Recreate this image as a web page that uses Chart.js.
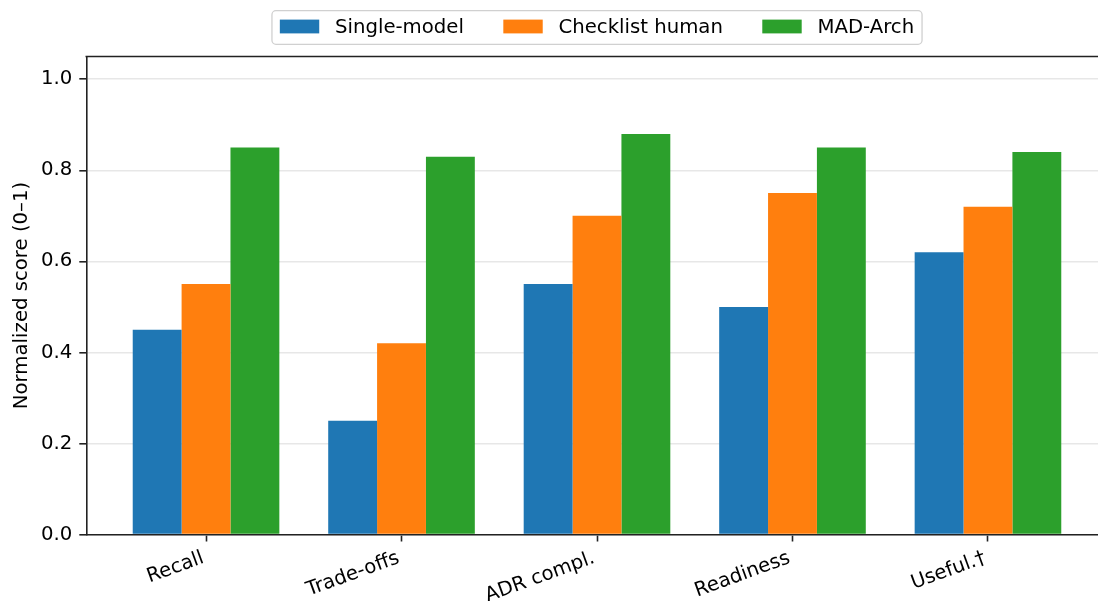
<!DOCTYPE html>
<html>
<head>
<meta charset="utf-8">
<script src="https://cdn.jsdelivr.net/npm/chart.js@4.4.1/dist/chart.umd.min.js"></script>
<style>
  html, body { margin: 0; padding: 0; background: #fff; overflow: hidden; width: 1098px; height: 601px; }
  #wrap { position: relative; width: 1110px; height: 601px; }
</style>
</head>
<body>
<div id="wrap"><canvas id="c"></canvas></div>
<script>
const categories = ['Recall', 'Trade-offs', 'ADR compl.', 'Readiness', 'Useful.†'];
const seriesNames = ['Single-model', 'Checklist human', 'MAD-Arch'];
const singleModel = [0.45, 0.25, 0.55, 0.50, 0.62];
const checklistHuman = [0.55, 0.42, 0.70, 0.75, 0.72];
const madArch = [0.85, 0.83, 0.88, 0.85, 0.84];
const yTickValues = [0.0, 0.2, 0.4, 0.6, 0.8, 1.0];
const yTitle = 'Normalized score (0–1)';

const FS = 19.7;
const FONT = 'DejaVu Sans';
const colors = ['#1f77b4', '#ff7f0e', '#2ca02c'];
Chart.defaults.font.family = FONT;
Chart.defaults.font.size = FS;
Chart.defaults.color = '#000';

const toPoints = arr => arr.map((v, i) => ({ x: i, y: v }));

const framePlugin = {
  id: 'framePlugin',
  afterDraw(chart) {
    const { ctx, chartArea: a } = chart;
    ctx.save();
    ctx.strokeStyle = '#222';
    ctx.lineWidth = 1.6;
    ctx.beginPath();
    ctx.moveTo(a.left - 0.8, a.top);
    ctx.lineTo(a.right + 0.8, a.top);
    ctx.moveTo(a.right, a.top);
    ctx.lineTo(a.right, a.bottom);
    ctx.stroke();

    // legend (matplotlib-like, framed, centered above the axes)
    ctx.font = FS + 'px "' + FONT + '"';
    const ds = chart.data.datasets;
    const handleW = 2 * FS, handleH = 0.7 * FS, textPad = 0.8 * FS, colSp = 2 * FS, bPad = 0.4 * FS;
    const widths = ds.map(d => ctx.measureText(d.label).width);
    let contentW = 0;
    widths.forEach((w, i) => { contentW += handleW + textPad + w + (i < widths.length - 1 ? colSp : 0); });
    const frameW = contentW + 2 * bPad;
    const frameH = 33.6;
    const cx = (a.left + a.right) / 2;
    const fx = cx - frameW / 2, fy = 10.7;
    ctx.beginPath();
    if (ctx.roundRect) ctx.roundRect(fx, fy, frameW, frameH, 4); else ctx.rect(fx, fy, frameW, frameH);
    ctx.fillStyle = 'rgba(255,255,255,0.8)';
    ctx.fill();
    ctx.strokeStyle = '#d0d0d0';
    ctx.lineWidth = 1.3;
    ctx.stroke();
    let x = fx + bPad;
    const midY = fy + frameH / 2;
    ds.forEach((d, i) => {
      ctx.fillStyle = d.backgroundColor;
      ctx.fillRect(x, midY - handleH / 2 - 1, handleW, handleH);
      x += handleW + textPad;
      ctx.fillStyle = '#000';
      ctx.textBaseline = 'middle';
      ctx.textAlign = 'left';
      ctx.fillText(d.label, x, midY);
      x += widths[i] + colSp;
    });
    ctx.restore();
  }
};

new Chart(document.getElementById('c'), {
  type: 'bar',
  data: {
    datasets: [
      { label: seriesNames[0], data: toPoints(singleModel), backgroundColor: colors[0] },
      { label: seriesNames[1], data: toPoints(checklistHuman), backgroundColor: colors[1] },
      { label: seriesNames[2], data: toPoints(madArch), backgroundColor: colors[2] }
    ]
  },
  options: {
    responsive: true,
    maintainAspectRatio: false,
    animation: false,
    devicePixelRatio: 1,
    layout: { padding: { top: 56.5, left: 0, right: 2.3, bottom: 0 } },
    datasets: { bar: { categoryPercentage: 0.75, barPercentage: 1.0, borderWidth: 0 } },
    plugins: { legend: { display: false }, tooltip: { enabled: false } },
    scales: {
      x: {
        type: 'linear',
        min: -0.6125,
        max: 4.6125,
        offset: false,
        afterBuildTicks: s => { s.ticks = categories.map((c, i) => ({ value: i })); },
        ticks: {
          callback: v => (categories[v] !== undefined ? categories[v] : ''),
          autoSkip: false,
          minRotation: 20,
          maxRotation: 20,
          padding: 5,
          labelOffset: -3,
          color: '#000'
        },
        grid: { drawOnChartArea: false, offset: false, tickColor: '#222', tickLength: 7, tickWidth: 1.6 },
        border: { color: '#222', width: 1.6 },
        afterFit: s => { s.height = 66.5; }
      },
      y: {
        min: 0,
        max: 1.05,
        z: 1,
        afterBuildTicks: s => { s.ticks = yTickValues.map(v => ({ value: v })); },
        ticks: { callback: v => Number(v).toFixed(1), padding: 7, color: '#000' },
        grid: { color: 'rgba(176,176,176,0.3)', lineWidth: 1.6, tickColor: '#222', tickLength: 7, tickWidth: 1.6 },
        border: { color: '#222', width: 1.6 },
        title: { display: true, text: yTitle, padding: { top: 10, bottom: 0 }, color: '#000' },
        afterFit: s => { s.width = 86.3; }
      }
    }
  },
  plugins: [framePlugin]
});
</script>
</body>
</html>
